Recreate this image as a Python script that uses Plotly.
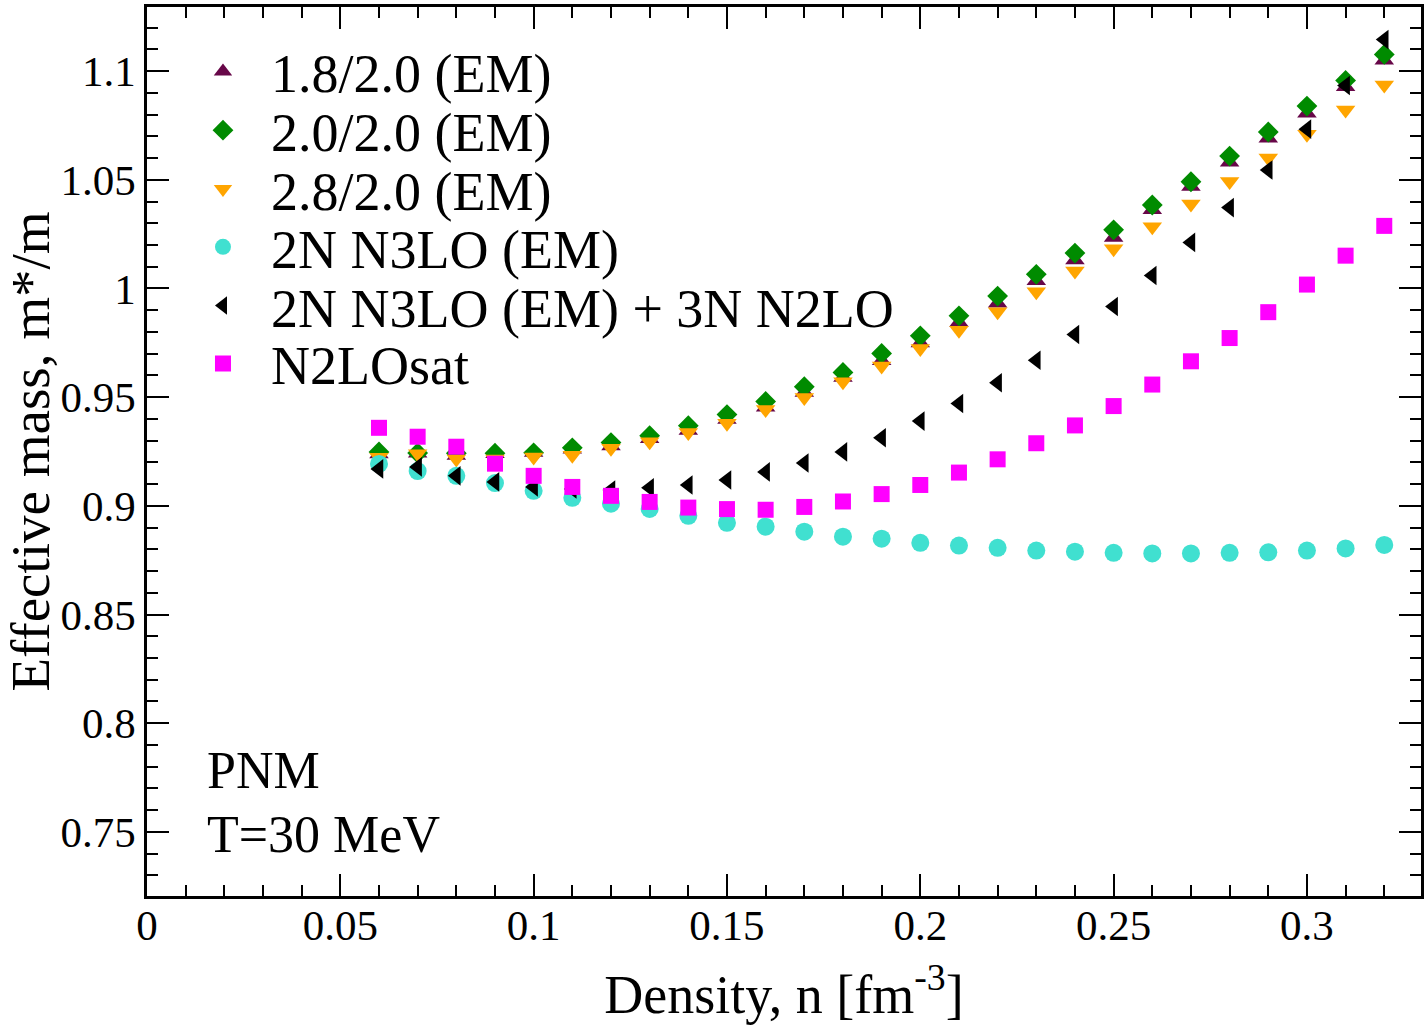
import plotly.graph_objects as go

density = [0.06, 0.07, 0.08, 0.09, 0.10, 0.11, 0.12, 0.13, 0.14, 0.15, 0.16, 0.17, 0.18, 0.19,
           0.20, 0.21, 0.22, 0.23, 0.24, 0.25, 0.26, 0.27, 0.28, 0.29, 0.30, 0.31, 0.32]

em_18_20 = [0.9239, 0.9242, 0.9232, 0.9240, 0.9245, 0.9260, 0.9275, 0.9309, 0.9347, 0.9397,
            0.9454, 0.9522, 0.9590, 0.9668, 0.9749, 0.9844, 0.9932, 1.0035, 1.0131, 1.0234,
            1.0362, 1.0469, 1.0581, 1.0691, 1.0806, 1.0928, 1.1050]

em_20_20 = [0.9248, 0.9243, 0.9242, 0.9242, 0.9244, 0.9267, 0.9291, 0.9323, 0.9369, 0.9420,
            0.9480, 0.9548, 0.9614, 0.9701, 0.9782, 0.9874, 0.9965, 1.0065, 1.0163, 1.0270,
            1.0384, 1.0491, 1.0609, 1.0720, 1.0839, 1.0957, 1.1077]

em_28_20 = [0.9223, 0.9240, 0.9216, 0.9216, 0.9225, 0.9233, 0.9265, 0.9295, 0.9337, 0.9380,
            0.9443, 0.9499, 0.9571, 0.9643, 0.9724, 0.9808, 0.9893, 0.9985, 1.0080, 1.0183,
            1.0284, 1.0389, 1.0492, 1.0600, 1.0710, 1.0821, 1.0936]

n3lo_2n = [0.9193, 0.9160, 0.9138, 0.9105, 0.9069, 0.9037, 0.9010, 0.8986, 0.8954, 0.8922,
           0.8904, 0.8881, 0.8858, 0.8849, 0.8830, 0.8817, 0.8807, 0.8794, 0.8789, 0.8784,
           0.8781, 0.8781, 0.8784, 0.8786, 0.8794, 0.8804, 0.8820]

n3lo_2n_3n = [0.9170, 0.9179, 0.9138, 0.9110, 0.9087, 0.9078, 0.9073, 0.9083, 0.9096, 0.9119,
              0.9156, 0.9197, 0.9248, 0.9313, 0.9390, 0.9471, 0.9566, 0.9670, 0.9788, 0.9917,
              1.0060, 1.0212, 1.0372, 1.0545, 1.0733, 1.0934, 1.1145]

n2losat = [0.9359, 0.9318, 0.9272, 0.9194, 0.9138, 0.9087, 0.9046, 0.9018, 0.8992, 0.8985,
           0.8982, 0.8995, 0.9020, 0.9054, 0.9096, 0.9153, 0.9214, 0.9288, 0.9370, 0.9459,
           0.9558, 0.9665, 0.9772, 0.9891, 1.0018, 1.0151, 1.0288]

series_names = ["1.8/2.0 (EM)", "2.0/2.0 (EM)", "2.8/2.0 (EM)", "2N N3LO (EM)",
                "2N N3LO (EM) + 3N N2LO", "N2LOsat"]
series_values = [em_18_20, em_20_20, em_28_20, n3lo_2n, n3lo_2n_3n, n2losat]
series_symbols = ["triangle-up", "diamond", "triangle-down", "circle", "triangle-left", "square"]
series_colors = ["#670748", "#008b00", "#ffa500", "#40e0d0", "#000000", "#ff00ff"]
series_sizes = [17, 16, 17, 18, 17, 16]

x_ticks = [0, 0.05, 0.1, 0.15, 0.2, 0.25, 0.3]
x_ticklabels = ["0", "0.05", "0.1", "0.15", "0.2", "0.25", "0.3"]
y_ticks = [0.75, 0.8, 0.85, 0.9, 0.95, 1.0, 1.05, 1.1]
y_ticklabels = ["0.75", "0.8", "0.85", "0.9", "0.95", "1", "1.05", "1.1"]

FONT = "Liberation Serif, Times New Roman, serif"

W, H = 1428, 1025
ML, MR, MT, MB = 147, 6, 4, 129
plot_h = H - MT - MB
plot_w = W - ML - MR

fig = go.Figure()
legend_keys = ["legend", "legend2", "legend3", "legend4", "legend5", "legend6"]
for name, vals, sym, col, sz, lk in zip(series_names, series_values, series_symbols,
                                        series_colors, series_sizes, legend_keys):
    fig.add_trace(go.Scatter(
        x=density, y=vals, mode="markers", name=name, legend=lk, showlegend=True,
        marker=dict(symbol=sym, color=col, size=sz, line=dict(width=0)),
    ))

legend_rows_px = [69, 128, 187, 245, 304, 362]
legend_layout = {}
for lk, py in zip(legend_keys, legend_rows_px):
    legend_layout[lk] = dict(
        x=(175 - ML) / plot_w, xanchor="left",
        y=(MT + plot_h - py) / plot_h, yanchor="middle",
        bgcolor="rgba(0,0,0,0)", borderwidth=0,
        font=dict(family=FONT, size=54, color="black"),
        itemwidth=86, itemsizing="trace", visible=True,
    )

axis_common = dict(
    showline=True, linecolor="black", linewidth=2.5, mirror="allticks",
    ticks="inside", ticklen=22, tickwidth=2, tickcolor="black",
    showgrid=False, zeroline=False,
    tickfont=dict(family=FONT, size=43, color="black"),
    minor=dict(ticks="inside", ticklen=11, tickwidth=2, tickcolor="black", dtick=0.01, showgrid=False),
)

fig.update_layout(
    width=W, height=H,
    margin=dict(l=ML, r=MR, t=MT, b=MB),
    paper_bgcolor="white", plot_bgcolor="white",
    font=dict(family=FONT, color="black"),
    showlegend=True,
    xaxis=dict(range=[0, 0.3295], tickmode="array", tickvals=x_ticks, ticktext=x_ticklabels,
               ticklabelstandoff=-10,
               title=dict(text="Density, n [fm<sup>-3</sup>]",
                          font=dict(family=FONT, size=54), standoff=27),
               **axis_common),
    yaxis=dict(range=[0.7205, 1.1295], tickmode="array", tickvals=y_ticks, ticktext=y_ticklabels,
               title=dict(text="Effective mass, m*/m",
                          font=dict(family=FONT, size=55), standoff=0),
               **axis_common),
    annotations=[
        dict(text="PNM", xref="paper", yref="paper", x=(205 - ML) / plot_w,
             y=(MT + plot_h - 770) / plot_h, xanchor="left", yanchor="middle",
             showarrow=False, font=dict(family=FONT, size=52, color="black")),
        dict(text="T=30 MeV", xref="paper", yref="paper", x=(205 - ML) / plot_w,
             y=(MT + plot_h - 834) / plot_h, xanchor="left", yanchor="middle",
             showarrow=False, font=dict(family=FONT, size=52, color="black")),
    ],
    **legend_layout,
)

fig.write_html("out.html")
